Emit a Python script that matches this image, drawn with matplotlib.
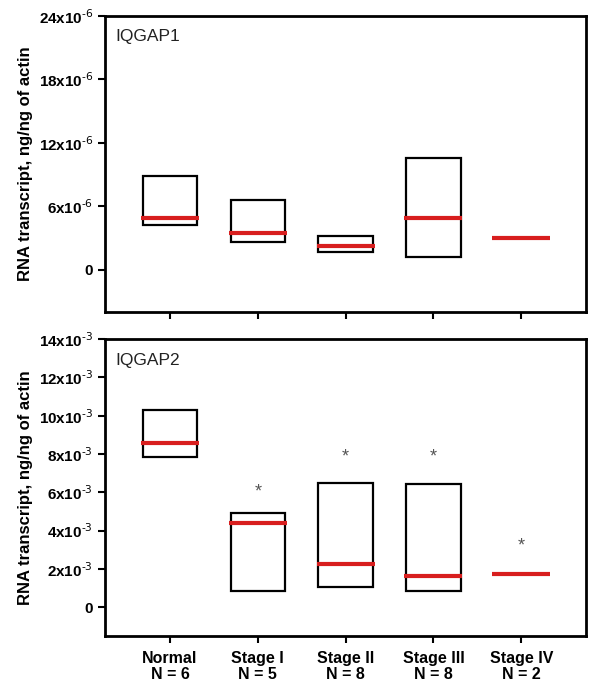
import matplotlib
matplotlib.use("Agg")
import matplotlib.pyplot as plt
import numpy as np

plt.rcParams["font.family"] = ["Liberation Sans", "DejaVu Sans"]

# ── Data ────────────────────────────────────────────────────────────────────
categories = ["Normal", "Stage I", "Stage II", "Stage III", "Stage IV"]
n_samples = [6, 5, 8, 8, 2]

# IQGAP1 (x 1e-6)
g1_q1 = [4.28, 2.63, 1.72, 1.19, np.nan]
g1_q3 = [8.90, 6.56, 3.16, 10.6, np.nan]
g1_med = [4.88, 3.44, 2.28, 4.88, 3.03]

# IQGAP2 (x 1e-3)
g2_q1 = [7.83, 0.84, 1.08, 0.84, np.nan]
g2_q3 = [10.3, 4.91, 6.49, 6.44, np.nan]
g2_med = [8.56, 4.42, 2.28, 1.63, 1.74]
g2_star = [np.nan, 6.0, 7.86, 7.86, 3.2]

RED = "#d81e1e"
BOX_W = 0.62


def tick_label(t, exp):
    if t == 0:
        return "0"
    return f"{t}x10$^{{\\mathbf{{\\text{{-{exp}}}}}}}$"


def draw_panel(ax, q1, q3, med, scale, ylim, yticks, exp, name, stars=None):
    x = np.arange(1, len(categories) + 1)
    q1 = np.array(q1) * scale
    q3 = np.array(q3) * scale
    med = np.array(med) * scale
    ax.bar(x, q3 - q1, bottom=q1, width=BOX_W, fill=False,
           edgecolor="black", linewidth=1.6, zorder=2)
    ax.hlines(med, x - BOX_W / 2 - 0.02, x + BOX_W / 2 + 0.02,
              color=RED, linewidth=3, zorder=3)
    if stars is not None:
        for xi, s in zip(x, stars):
            if not np.isnan(s):
                ax.text(xi, s * scale, "*", ha="center", va="center",
                        fontsize=13, color="#555555")
    ax.set_xlim(0.26, 5.74)
    ax.set_ylim(ylim[0] * scale, ylim[1] * scale)
    ax.set_yticks(np.array(yticks) * scale)
    ax.set_yticklabels([tick_label(t, exp) for t in yticks],
                       fontweight="bold", fontsize=11)
    ax.set_xticks(x)
    ax.tick_params(direction="out", length=5, width=1.5)
    for sp in ax.spines.values():
        sp.set_linewidth(2)
    ax.set_ylabel("RNA transcript, ng/ng of actin", fontsize=12,
                  fontweight="bold", labelpad=4)
    ax.text(0.022, 0.955, name, transform=ax.transAxes, fontsize=12.5,
            ha="left", va="top", color="#222222")


fig = plt.figure(figsize=(6, 6.95), dpi=100)
ax1 = fig.add_axes([0.175, 0.551, 0.802, 0.426])
ax2 = fig.add_axes([0.175, 0.085, 0.802, 0.427])

draw_panel(ax1, g1_q1, g1_q3, g1_med, 1e-6, (-4, 24),
           [0, 6, 12, 18, 24], 6, "IQGAP1")
ax1.set_xticklabels([])

draw_panel(ax2, g2_q1, g2_q3, g2_med, 1e-3, (-1.5, 14),
           [0, 2, 4, 6, 8, 10, 12, 14], 3, "IQGAP2", stars=g2_star)
ax2.set_xticklabels([f"{c}\nN = {n}" for c, n in zip(categories, n_samples)],
                    fontweight="bold", fontsize=11.5, linespacing=1.05)
ax2.tick_params(axis="x", pad=6)

fig.savefig("out.png", dpi=100)
